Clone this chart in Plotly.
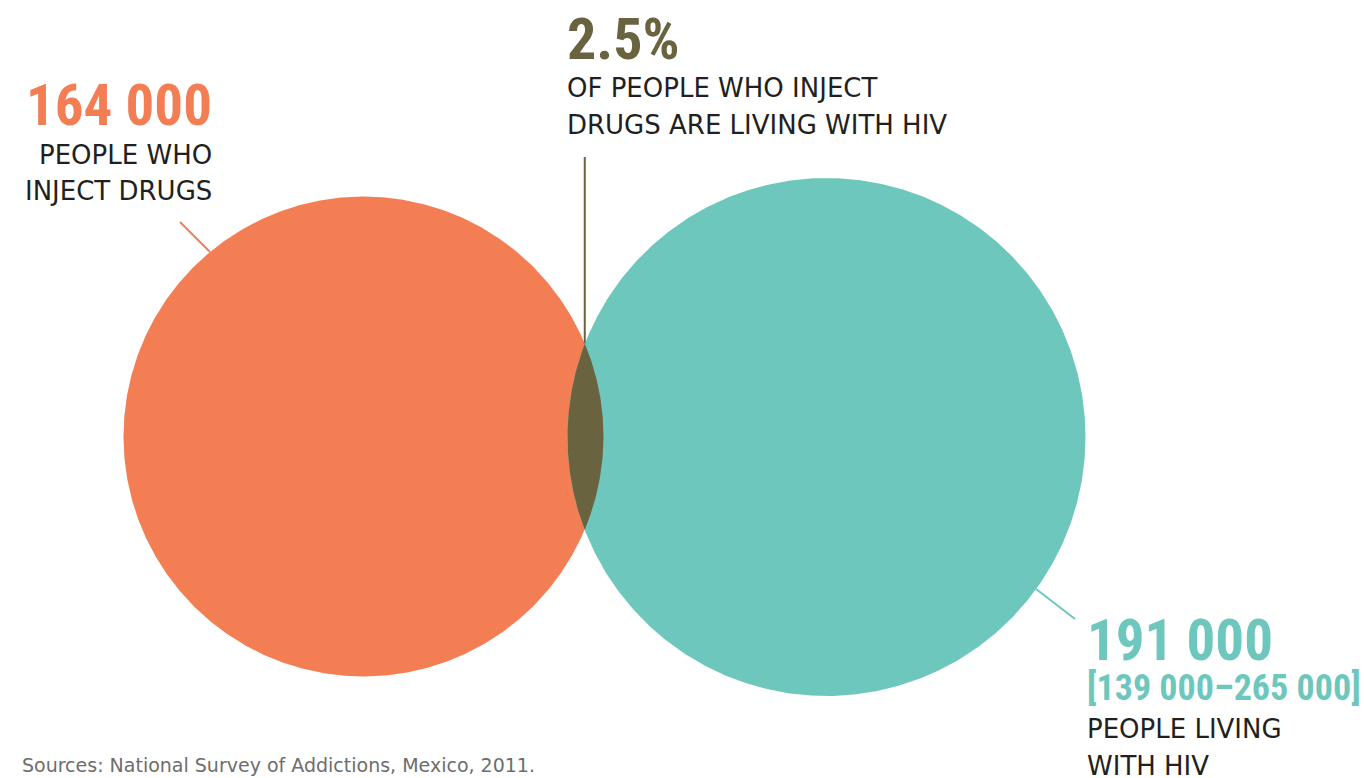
import numpy as np
import plotly.graph_objects as go

# ---- data ----
categories = ["PEOPLE WHO INJECT DRUGS", "PEOPLE LIVING WITH HIV"]
values = [164000, 191000]
hiv_range = [139000, 265000]
overlap_pct = 2.5
overlap_text = ["OF PEOPLE WHO INJECT", "DRUGS ARE LIVING WITH HIV"]
left_lines = ["PEOPLE WHO", "INJECT DRUGS"]
right_lines = ["PEOPLE LIVING", "WITH HIV"]
source = "Sources: National Survey of Addictions, Mexico, 2011."

# ---- style / layout ----
W, H = 1364, 778
ORANGE = "#F47E54"
TEAL = "#6EC7BD"
OLIVE = "#6A6340"
DARK = "#231F20"
GREY = "#6d6d6d"
NUM_FONT = "Roboto Condensed, Open Sans Condensed, sans-serif"
TXT_FONT = "DejaVu Sans, sans-serif"
scale = 240 / np.sqrt(164000)          # radius per sqrt(value) -> area proportional
centers = [(363.5, 436.5), (826.5, 437.0)]
colors = [ORANGE, TEAL]

def fmt(v):
    return f"{v:,}".replace(",", " ")

radii = [scale * np.sqrt(v) for v in values]
t = np.linspace(0, 2 * np.pi, 721)

fig = go.Figure()
for (cx, cy), r, c, name in zip(centers, radii, colors, categories):
    fig.add_trace(go.Scatter(x=cx + r * np.cos(t), y=cy + r * np.sin(t), mode="lines",
                             fill="toself", fillcolor=c, line=dict(width=0, color=c),
                             hoverinfo="skip", name=name, showlegend=False))

# lens (intersection)
(x1, y1), (x2, y2) = centers
r1, r2 = radii
d = x2 - x1
a = (d * d + r1 * r1 - r2 * r2) / (2 * d)
hh = np.sqrt(r1 * r1 - a * a)
ang1 = np.arctan2(hh, a)
ang2 = np.arctan2(hh, -(d - a))
th1 = np.linspace(-ang1, ang1, 200)
th2 = np.linspace(ang2, 2 * np.pi - ang2, 200)
lx = np.concatenate([x1 + r1 * np.cos(th1), x2 + r2 * np.cos(th2)])
ly = np.concatenate([y1 + r1 * np.sin(th1), y2 + r2 * np.sin(th2)])
fig.add_trace(go.Scatter(x=lx, y=ly, mode="lines", fill="toself", fillcolor=OLIVE,
                         line=dict(width=0, color=OLIVE), hoverinfo="skip", showlegend=False))
ix = x1 + a
iy_top = y1 - hh

# leader lines
fig.add_trace(go.Scatter(x=[180, 210], y=[222, 252], mode="lines", line=dict(color=ORANGE, width=2),
                         hoverinfo="skip", showlegend=False))
fig.add_trace(go.Scatter(x=[1036, 1075], y=[589, 619], mode="lines", line=dict(color=TEAL, width=2),
                         hoverinfo="skip", showlegend=False))
fig.add_trace(go.Scatter(x=[ix, ix], y=[157, iy_top], mode="lines", line=dict(color=OLIVE, width=2),
                         hoverinfo="skip", showlegend=False))

ann = []
def label(x, y, text, size, color, font, anchor, weight="normal"):
    ann.append(dict(x=x, y=y, xref="x", yref="y", text=text, showarrow=False,
                    xanchor=anchor, yanchor="middle",
                    font=dict(size=size, color=color, family=font, weight=weight)))

BODY = 26
label(214, 105, fmt(values[0]), 57, ORANGE, NUM_FONT, "right", 700)
label(214, 155, left_lines[0], BODY, DARK, TXT_FONT, "right")
label(214, 191, left_lines[1], BODY, DARK, TXT_FONT, "right")

label(565, 39, f"{overlap_pct}%", 58, OLIVE, NUM_FONT, "left", 700)
label(565, 88, overlap_text[0], BODY, DARK, TXT_FONT, "left")
label(565, 125, overlap_text[1], BODY, DARK, TXT_FONT, "left")

label(1085, 640, fmt(values[1]), 57, TEAL, NUM_FONT, "left", 700)
label(1085, 688, f"[{fmt(hiv_range[0])}–{fmt(hiv_range[1])}]", 36, TEAL, NUM_FONT, "left", 700)
label(1085, 729, right_lines[0], BODY, DARK, TXT_FONT, "left")
label(1085, 766, right_lines[1], BODY, DARK, TXT_FONT, "left")

label(20, 765, source, 19, GREY, TXT_FONT, "left")

fig.update_layout(
    width=W, height=H, margin=dict(l=0, r=0, t=0, b=0),
    paper_bgcolor="white", plot_bgcolor="white",
    xaxis=dict(range=[0, W], visible=False, fixedrange=True),
    yaxis=dict(range=[H, 0], visible=False, fixedrange=True),
    annotations=ann, showlegend=False,
)
fig.write_html("out.html", config={"displayModeBar": False},
               post_script="document.body.style.margin='0';")
